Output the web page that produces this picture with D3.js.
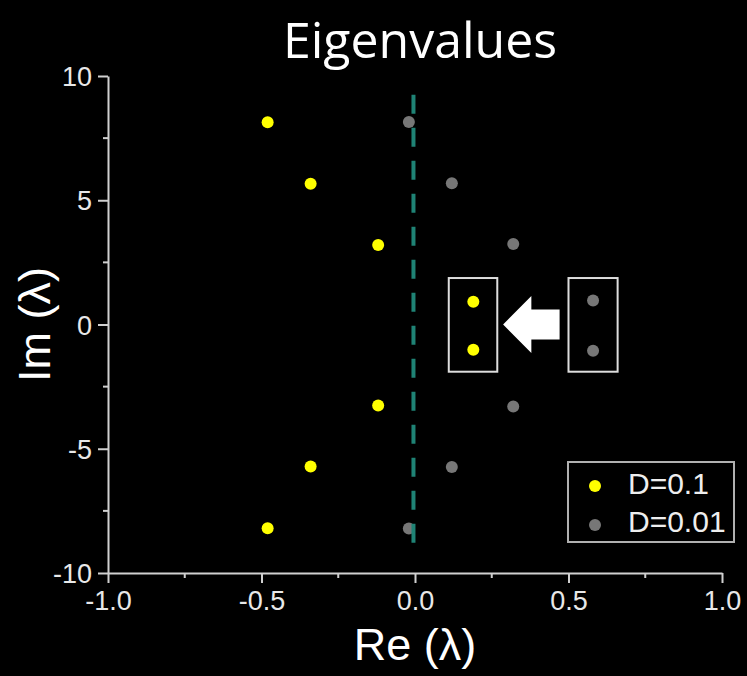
<!DOCTYPE html>
<html>
<head>
<meta charset="utf-8">
<script src="https://cdn.jsdelivr.net/npm/d3@7"></script>
<style>
  body { margin: 0; background: #000; }
  svg { display: block; }
</style>
</head>
<body>
<div id="chart"></div>
<script>
var reD01 = [-0.48, -0.34, -0.12, 0.19, 0.19, -0.12, -0.34, -0.48];
var imD01 = [8.14, 5.66, 3.20, 0.92, -1.02, -3.26, -5.71, -8.20];
var reD001 = [-0.02, 0.12, 0.32, 0.58, 0.58, 0.32, 0.12, -0.02];
var imD001 = [8.15, 5.68, 3.24, 0.97, -1.06, -3.30, -5.73, -8.21];

var seriesNames = ['D=0.1', 'D=0.01'];
var xTicks = [-1.0, -0.5, 0.0, 0.5, 1.0];
var xMinor = [-0.75, -0.25, 0.25, 0.75];
var yTicks = [-10, -5, 0, 5, 10];
var yMinor = [-7.5, -2.5, 2.5, 7.5];

(function() {
  var width = 747,
      height = 676;

  var x = d3.scaleLinear().domain([-1, 1]).range([108, 722]);
  var y = d3.scaleLinear().domain([-10, 10]).range([573, 76]);

  var svg = d3.select('#chart').append('svg')
      .attr('width', width)
      .attr('height', height)
      .style('background', '#000');

  // title
  svg.append('text')
    .attr('x', 420).attr('y', 58)
    .attr('text-anchor', 'middle')
    .attr('fill', '#fff')
    .style('font-family', '"Open Sans", sans-serif')
    .style('font-size', '50px')
    .text('Eigenvalues');

  var tickFont = '"Liberation Sans", Arial, sans-serif';
  // plain hyphen for negatives, like the original
  var fmt = function(f) { return function(d) { return d3.format(f)(d).replace('\u2212', '-'); }; };

  // x axis
  var gx = svg.append('g').attr('transform', 'translate(0,' + y(-10) + ')');
  gx.call(d3.axisBottom(x).tickValues(xTicks).tickFormat(fmt('.1f'))
      .tickSize(10).tickSizeOuter(0).tickPadding(8));
  gx.selectAll('line.minor').data(xMinor).enter().append('line')
    .attr('class', 'minor')
    .attr('x1', function(d) { return x(d); }).attr('x2', function(d) { return x(d); })
    .attr('y1', 0).attr('y2', 5);

  // y axis
  var gy = svg.append('g').attr('transform', 'translate(' + x(-1) + ',0)');
  gy.call(d3.axisLeft(y).tickValues(yTicks).tickFormat(fmt('d'))
      .tickSize(10).tickSizeOuter(0).tickPadding(6));
  gy.selectAll('line.minor').data(yMinor).enter().append('line')
    .attr('class', 'minor')
    .attr('y1', function(d) { return y(d); }).attr('y2', function(d) { return y(d); })
    .attr('x1', 0).attr('x2', -5);

  [gx, gy].forEach(function(g) {
    g.attr('font-family', null);
    g.select('.domain').attr('stroke', '#d0d0d0').attr('stroke-width', 2);
    g.selectAll('line').attr('stroke', '#d0d0d0').attr('stroke-width', 2);
    g.selectAll('text')
      .attr('fill', '#e8e8e8')
      .style('font-family', tickFont)
      .style('font-size', '27px');
  });
  gy.selectAll('.tick text').attr('dy', '0.36em');

  // axis titles
  svg.append('text')
    .attr('x', x(0)).attr('y', 660)
    .attr('text-anchor', 'middle')
    .attr('fill', '#fff')
    .style('font-family', tickFont)
    .style('font-size', '45px')
    .text('Re (λ)');

  svg.append('text')
    .attr('transform', 'translate(50,' + y(0) + ') rotate(-90)')
    .attr('text-anchor', 'middle')
    .attr('fill', '#fff')
    .style('font-family', tickFont)
    .style('font-size', '45px')
    .text('Im (λ)');

  // points
  var colors = ['#ffff00', '#777777'];
  var pts001 = reD001.map(function(r, i) { return [r, imD001[i]]; });
  var pts01 = reD01.map(function(r, i) { return [r, imD01[i]]; });

  svg.append('g').selectAll('circle').data(pts001).enter().append('circle')
    .attr('cx', function(d) { return x(d[0]); })
    .attr('cy', function(d) { return y(d[1]); })
    .attr('r', 6)
    .attr('fill', colors[1]);

  svg.append('g').selectAll('circle').data(pts01).enter().append('circle')
    .attr('cx', function(d) { return x(d[0]); })
    .attr('cy', function(d) { return y(d[1]); })
    .attr('r', 6)
    .attr('fill', colors[0]);

  // dashed line at Re = 0
  svg.append('line')
    .attr('x1', x(-0.005)).attr('x2', x(-0.005))
    .attr('y1', y(9.25)).attr('y2', y(-9.33))
    .attr('stroke', '#1f8375')
    .attr('stroke-width', 4)
    .attr('stroke-dasharray', '19,14');

  // boxes around the pair near Im = ±1
  var boxes = [[0.11, 0.268], [0.5, 0.66]];
  svg.append('g').selectAll('rect').data(boxes).enter().append('rect')
    .attr('x', function(d) { return x(d[0]); })
    .attr('y', y(1.87))
    .attr('width', function(d) { return x(d[1]) - x(d[0]); })
    .attr('height', y(-1.9) - y(1.87))
    .attr('fill', 'none')
    .attr('stroke', '#dddddd')
    .attr('stroke-width', 2);

  // arrow pointing left
  var arrow = [[0.287, 0], [0.379, 1.15], [0.379, 0.6], [0.471, 0.6],
               [0.471, -0.6], [0.379, -0.6], [0.379, -1.15]];
  svg.append('path')
    .attr('d', d3.line().x(function(d) { return x(d[0]); }).y(function(d) { return y(d[1]); })(arrow) + 'Z')
    .attr('fill', '#fff');

  // legend
  var lg = svg.append('g');
  lg.append('rect')
    .attr('x', 568).attr('y', 462)
    .attr('width', 166).attr('height', 80)
    .attr('fill', '#000')
    .attr('stroke', '#b0b0b0')
    .attr('stroke-width', 2);
  seriesNames.forEach(function(name, i) {
    lg.append('circle')
      .attr('cx', 595).attr('cy', 486 + i * 39)
      .attr('r', 6)
      .attr('fill', colors[i]);
    lg.append('text')
      .attr('x', 628).attr('y', 494 + i * 38)
      .attr('fill', '#eee')
      .style('font-family', tickFont)
      .style('font-size', '30px')
      .text(name);
  });
})();
</script>
</body>
</html>
